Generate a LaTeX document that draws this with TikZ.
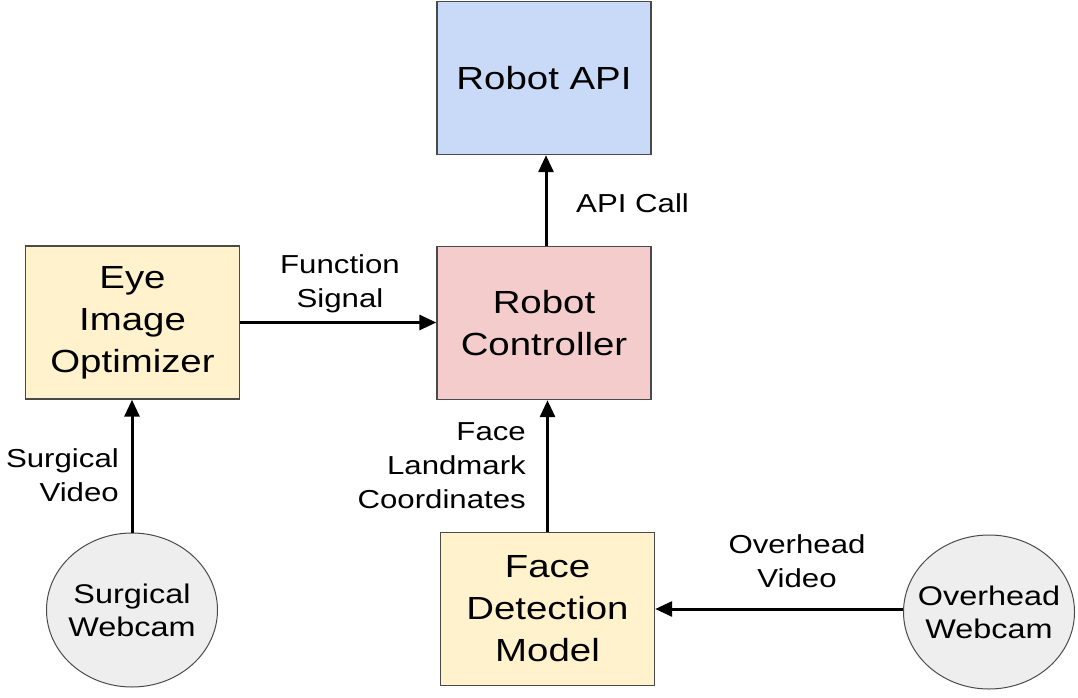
\documentclass[tikz,border=0pt]{standalone}
\usepackage{fontspec}
\setmainfont[FakeStretch=1.2]{Liberation Sans}
\usetikzlibrary{arrows.meta,shapes.geometric}
\definecolor{apiblue}{HTML}{C9DAF8}
\definecolor{ctrlpink}{HTML}{F4CCCC}
\definecolor{boxyellow}{HTML}{FFF2CC}
\definecolor{camgray}{HTML}{EEEEEE}
\definecolor{edgegray}{HTML}{4A4A4A}
\tikzset{
  box/.style={draw=edgegray, line width=1.4pt, rectangle, minimum width=214pt, minimum height=153pt, inner sep=0pt, align=center, font=\fontsize{32}{42}\selectfont},
  cam/.style={draw=edgegray, line width=1pt, ellipse, fill=camgray, minimum width=171pt, minimum height=154pt, inner sep=0pt},
  camtext/.style={inner sep=0pt, align=center, font=\fontsize{27}{33}\selectfont},
  lbl/.style={inner sep=0pt, font=\fontsize{26}{34}\selectfont},
  arr/.style={line width=3pt, -{Triangle[length=17pt,width=15pt]}}
}
\begin{document}
\begin{tikzpicture}[x=1pt,y=-1pt]
\useasboundingbox (0,0) rectangle (1078,698);
\node[box, fill=apiblue] (api) at (544,78) {Robot API};
\node[box, fill=ctrlpink] (ctrl) at (544,323) {Robot\\Controller};
\node[box, fill=boxyellow] (eye) at (132.5,322.5) {Eye\\Image\\Optimizer};
\node[box, fill=boxyellow] (face) at (547.5,609) {Face\\Detection\\Model};
\node[cam, label={[camtext]center:Surgical\\Webcam}] (sw) at (132,610) {};
\node[cam, label={[camtext]center:Overhead\\Webcam}] (ow) at (989,612) {};

\node[lbl, anchor=west] (lapi) at (576,203) {API Call};
\node[lbl, align=center] (lfun) at (340,284) {Function\\Signal};
\node[lbl, align=right, anchor=east] (lface) at (526,466) {Face\\Landmark\\Coordinates};
\node[lbl, align=right, anchor=east] (lsurg) at (119,475) {Surgical\\Video};
\node[lbl, align=center] (lover) at (797,561) {Overhead\\Video};

\draw[arr] (ctrl.north -| 546,0) -- (api.south -| 546,0);
\draw[arr] (eye.east) -- (ctrl.west |- eye.east);
\draw[arr] (face.north) -- (face.north |- ctrl.south);
\draw[arr] (sw.north) -- (sw.north |- eye.south);
\draw[arr] (ow.west |- face.east) -- (face.east);
\end{tikzpicture}
\end{document}
